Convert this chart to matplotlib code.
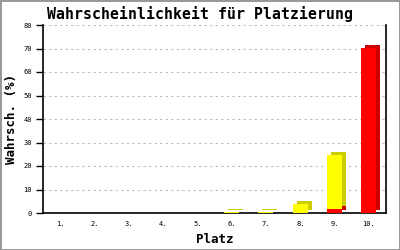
import matplotlib
matplotlib.use("Agg")
import matplotlib.pyplot as plt
import matplotlib.transforms as mtransforms
import numpy as np

platz = ['1.', '2.', '3.', '4.', '5.', '6.', '7.', '8.', '9.', '10.']
rot = [0, 0, 0, 0, 0, 0, 0, 0, 1.8, 70.3]
gelb = [0, 0, 0, 0, 0, 0.3, 0.6, 3.8, 22.9, 0]
yticks = [0, 10, 20, 30, 40, 50, 60, 70, 80]

mono = 'DejaVu Sans Mono'

fig = plt.figure(figsize=(4, 2.5), dpi=100)
fig.patch.set_facecolor('white')
fig.patch.set_edgecolor('#999999')
fig.patch.set_linewidth(2)
ax = fig.add_axes([43 / 400, 37 / 250, 343 / 400, 188 / 250])

x = np.arange(1, len(platz) + 1)
breite = 0.44
schatten = mtransforms.offset_copy(ax.transData, fig=fig, x=4, y=3, units='dots')

# Schatten (3D-Effekt) zuerst, dann die Vorderseite
ax.bar(x, rot, breite, color='#cc0000', transform=schatten, zorder=2)
ax.bar(x, gelb, breite, bottom=rot, color='#cccc00', transform=schatten, zorder=2)
ax.bar(x, rot, breite, color='#ff0000', zorder=3)
ax.bar(x, gelb, breite, bottom=rot, color='#ffff00', zorder=3)

ax.set_xlim(0.5, 10.5)
ax.set_ylim(0, 80)
ax.set_xticks(x)
ax.set_xticklabels(platz, fontfamily=mono, fontsize=5)
ax.set_yticks(yticks)
ax.set_yticklabels([str(v) for v in yticks], fontfamily=mono, fontsize=5)
ax.tick_params(axis='x', length=0, pad=6)
ax.tick_params(axis='y', length=5, width=1, direction='out', pad=3)

ax.yaxis.grid(True, color='#bbbbbb', linestyle=(0, (2, 3)), linewidth=0.8)
ax.set_axisbelow(True)
ax.spines['top'].set_visible(False)
for s in ['left', 'bottom', 'right']:
    ax.spines[s].set_linewidth(1.2)
    ax.spines[s].set_color('black')

fig.text(0.5, 1 - 13.5 / 250, 'Wahrscheinlichkeit für Platzierung', fontfamily=mono,
         fontsize=10.75, fontweight='bold', ha='center', va='center')
ax.set_xlabel('Platz', fontfamily=mono, fontsize=9, fontweight='bold', labelpad=4)
ax.set_ylabel('Wahrsch. (%)', fontfamily=mono, fontsize=9, fontweight='bold', labelpad=4)

fig.savefig('out.png', dpi=100)
